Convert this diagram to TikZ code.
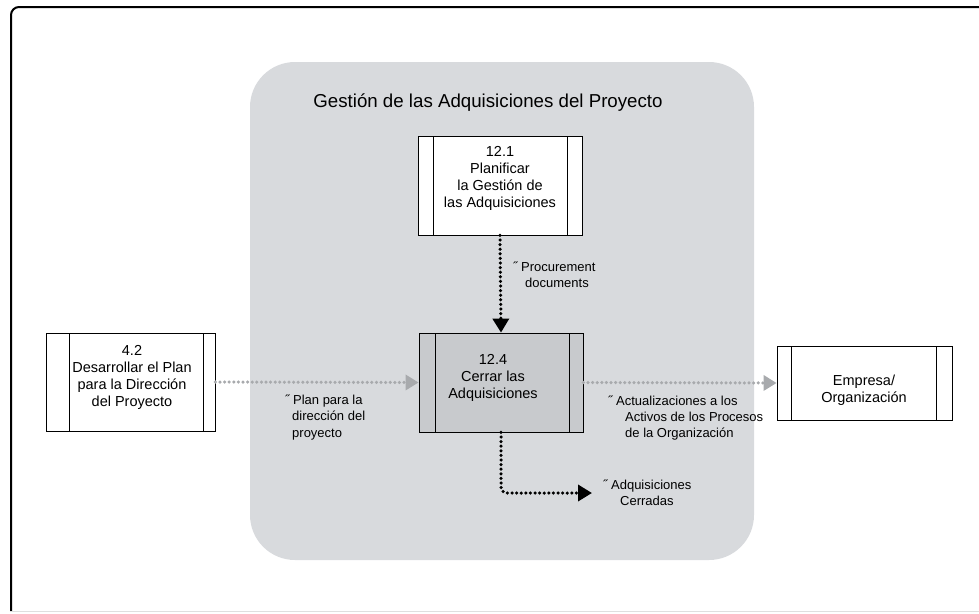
\documentclass[tikz,border=0pt]{standalone}
\usepackage{fontspec}
\setmainfont{Liberation Sans}
\usetikzlibrary{arrows.meta, positioning, calc}

\definecolor{panelgray}{RGB}{216,218,221}
\definecolor{boxgray}{RGB}{200,202,205}
\definecolor{flowgray}{RGB}{168,170,173}

\begin{document}
\begin{tikzpicture}[x=1pt, y=-1pt,
		lband/.store in=\lband, rband/.store in=\rband, lband=15, rband=15,
		proc/.style={draw, thick, fill=white, inner sep=0pt,
			path picture={
				\draw[thick] ([xshift=\lband pt]path picture bounding box.north west) -- ([xshift=\lband pt]path picture bounding box.south west);
				\draw[thick] ([xshift=-\rband pt]path picture bounding box.north east) -- ([xshift=-\rband pt]path picture bounding box.south east);
			}},
		boxtxt/.style={align=center, inner sep=0pt, font=\fontsize{14.5}{17}\selectfont},
		flowtxt/.style={align=left, inner sep=0pt, anchor=west, font=\fontsize{13}{16.3}\selectfont},
		blackflow/.style={black, line width=3.5pt, line cap=round, dash pattern=on 0pt off 4.6pt, -{Triangle[length=14pt, width=16pt]}},
		grayflow/.style={flowgray, line width=3.5pt, line cap=round, dash pattern=on 0pt off 4.6pt, -{Triangle[length=13pt, width=15pt]}}
		]
		
		\useasboundingbox (0,0) rectangle (979,613);
		
		% --- marco exterior ---
		\draw[line width=2pt, rounded corners=8] (979,7) -- (11,7) -- (11,611);
		\draw[gray!25] (11,611.5) -- (979,611.5);
		
		% --- grupo de procesos ---
		\node[fill=panelgray, rounded corners=45, minimum width=504, minimum height=498, inner sep=0pt] (grp) at (502,311) {};
		\node[font=\fontsize{18.7}{22}\selectfont, inner sep=0pt] (ttl) at (488,103) {Gestión de las Adquisiciones del Proyecto};
		
		% --- procesos ---
		\node[proc, minimum width=164, minimum height=99] (p121) at (500,185.5) {};
		\node[boxtxt] (t121) at (500,178) {12.1\\Planificar\\la Gestión de\\las Adquisiciones};
		
		\node[proc, fill=boxgray, lband=16, rband=14, minimum width=164, minimum height=99] (p124) at (501,382.5) {};
		\node[boxtxt] (t124) at (493,377.5) {12.4\\Cerrar las\\Adquisiciones};
		
		\node[proc, lband=23, rband=12, minimum width=169, minimum height=98] (p42) at (130.5,382) {};
		\node[boxtxt] (t42) at (132,377.5) {4.2\\Desarrollar el Plan\\para la Dirección\\del Proyecto};
		
		\node[proc, lband=14, rband=16, minimum width=175, minimum height=74] (emp) at (864.5,383) {};
		\node[boxtxt] (temp) at (864,390) {Empresa/\\Organización};
		
		% --- flujos ---
		\coordinate (cerr) at (592,493);
		\draw[blackflow] (p121.south) -- (p124.north);
		\draw[grayflow] (p42.east) -- (p124.west);
		\draw[grayflow] (p124.east) -- (emp.west);
		\draw[blackflow, rounded corners=6] (p124.south) |- (cerr);
		
		% --- etiquetas ---
		\node[flowtxt] (lproc) at (513,275) {˝ Procurement\\\hspace*{12pt}documents};
		\node[flowtxt] (lplan) at (285,417.5) {˝ Plan para la\\\hspace*{7pt}dirección del\\\hspace*{7pt}proyecto};
		\node[flowtxt] (lact) at (608,418) {˝ Actualizaciones a los\\\hspace*{17pt}Activos de los Procesos\\\hspace*{17pt}de la Organización};
		\node[flowtxt] (lcer) at (603,492.5) {˝ Adquisiciones\\\hspace*{17pt}Cerradas};
		
	\end{tikzpicture}
\end{document}
